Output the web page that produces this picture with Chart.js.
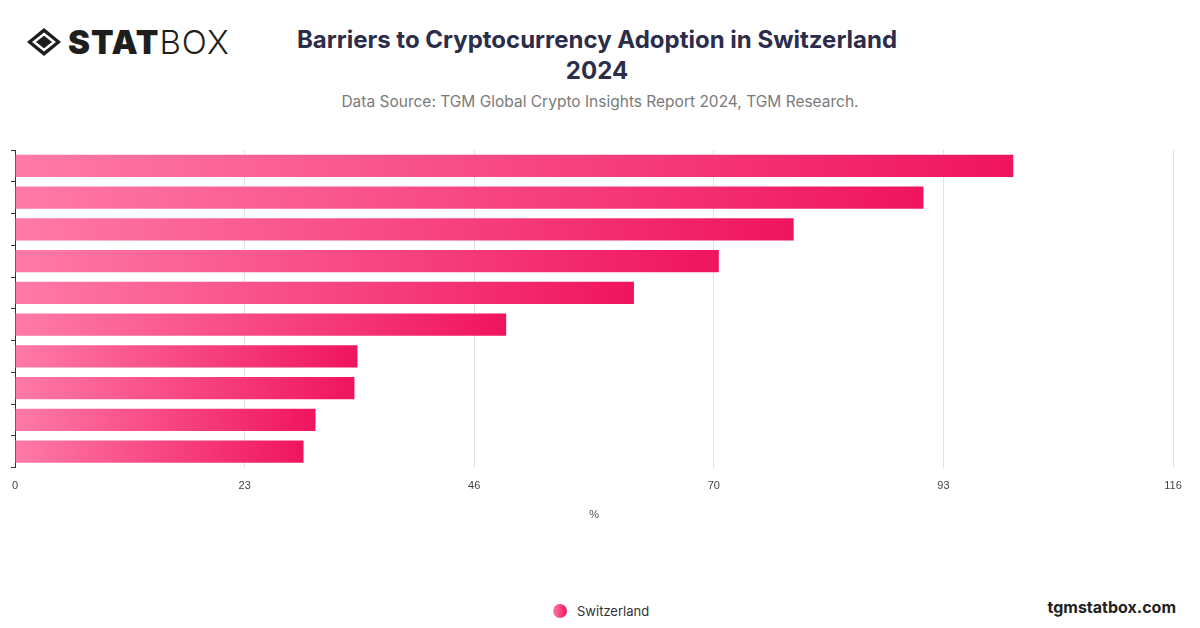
<!DOCTYPE html>
<html>
<head>
<meta charset="utf-8">
<script src="https://cdn.jsdelivr.net/npm/chart.js@4"></script>
<style>
  body { margin: 0; width: 1200px; height: 628px; background: #fff; font-family: "Inter", "Roboto", sans-serif; position: relative; overflow: hidden; }
  #logo { position: absolute; left: 26px; top: 22px; font-size: 33px; color: #1e1e1e; letter-spacing: 1px; display: flex; align-items: center; }
  #logo b { font-weight: 900; }
  #logo span { font-weight: 300; }
  #title { position: absolute; left: 0; width: 1194px; top: 24px; text-align: center; font-size: 24px; font-weight: 700; color: #2b2d4a; line-height: 31px; }
  #source { position: absolute; left: 0; width: 1200px; top: 92px; text-align: center; font-size: 15.5px; color: #7a7a7a; }
  #wrap { position: absolute; left: 0; top: 0; width: 1200px; height: 526px; }
  #legend { position: absolute; top: 603px; left: 553px; font-size: 13px; color: #333; display: flex; align-items: center; }
  #legend i { display: inline-block; width: 14px; height: 14px; border-radius: 50%; background: linear-gradient(90deg, #ff7aa8, #f0145f); margin-right: 10px; }
  #site { position: absolute; right: 24px; top: 597px; font-size: 16px; font-weight: 700; color: #222; }
</style>
</head>
<body>
<div id="logo"><svg width="36" height="30" viewBox="0 0 36 30" style="margin-right:6px"><path d="M18 1 L35 15 L18 29 L1 15 Z" fill="#1e1e1e"/><path d="M18 7 L28 15 L18 23 L8 15 Z" fill="none" stroke="#fff" stroke-width="2.5"/></svg><b>STAT</b><span>BOX</span></div>
<div id="title">Barriers to Cryptocurrency Adoption in Switzerland<br>2024</div>
<div id="source">Data Source: TGM Global Crypto Insights Report 2024, TGM Research.</div>
<div id="wrap"><canvas id="chart"></canvas></div>
<div id="legend"><i></i>Switzerland</div>
<div id="site">tgmstatbox.com</div>
<script>
const categories = ['', '', '', '', '', '', '', '', '', ''];
const seriesName = 'Switzerland';
const values = [100, 91, 78, 70.5, 62, 49.2, 34.3, 34, 30.1, 28.9];
const xTicks = [0, 23, 46, 70, 93, 116];

function barGradient(ctx) {
  const chart = ctx.chart;
  const area = chart.chartArea;
  if (!area) return '#f0145f';
  const el = ctx.element;
  const x0 = chart.scales.x.getPixelForValue(0);
  const x1 = el && el.x ? el.x : chart.scales.x.getPixelForValue(values[ctx.dataIndex]);
  const g = chart.ctx.createLinearGradient(x0, 0, Math.max(x1, x0 + 1), 0);
  g.addColorStop(0, '#ff7aa8');
  g.addColorStop(1, '#f0145f');
  return g;
}

new Chart(document.getElementById('chart'), {
  type: 'bar',
  data: {
    labels: categories,
    datasets: [{
      label: seriesName,
      data: values,
      backgroundColor: barGradient,
      barPercentage: 0.7,
      categoryPercentage: 1
    }]
  },
  options: {
    indexAxis: 'y',
    responsive: true,
    maintainAspectRatio: false,
    animation: false,
    layout: { padding: { top: 150, left: 0, right: 27, bottom: 0 } },
    plugins: { legend: { display: false }, tooltip: { enabled: false } },
    scales: {
      x: {
        min: 0, max: 116,
        afterBuildTicks: axis => { axis.ticks = xTicks.map(v => ({ value: v })); },
        grid: { color: '#e2e2e2', drawTicks: false },
        border: { display: false },
        ticks: { color: '#444', font: { size: 11 }, padding: 12 },
        title: { display: true, text: '%', color: '#555', font: { size: 11 }, padding: { top: 4 } }
      },
      y: {
        grid: { drawOnChartArea: false, color: '#333', tickLength: 4, offset: true },
        border: { display: true, color: '#333', width: 1 },
        ticks: { display: true, padding: 0, font: { size: 1 } }
      }
    }
  }
});
</script>
</body>
</html>
